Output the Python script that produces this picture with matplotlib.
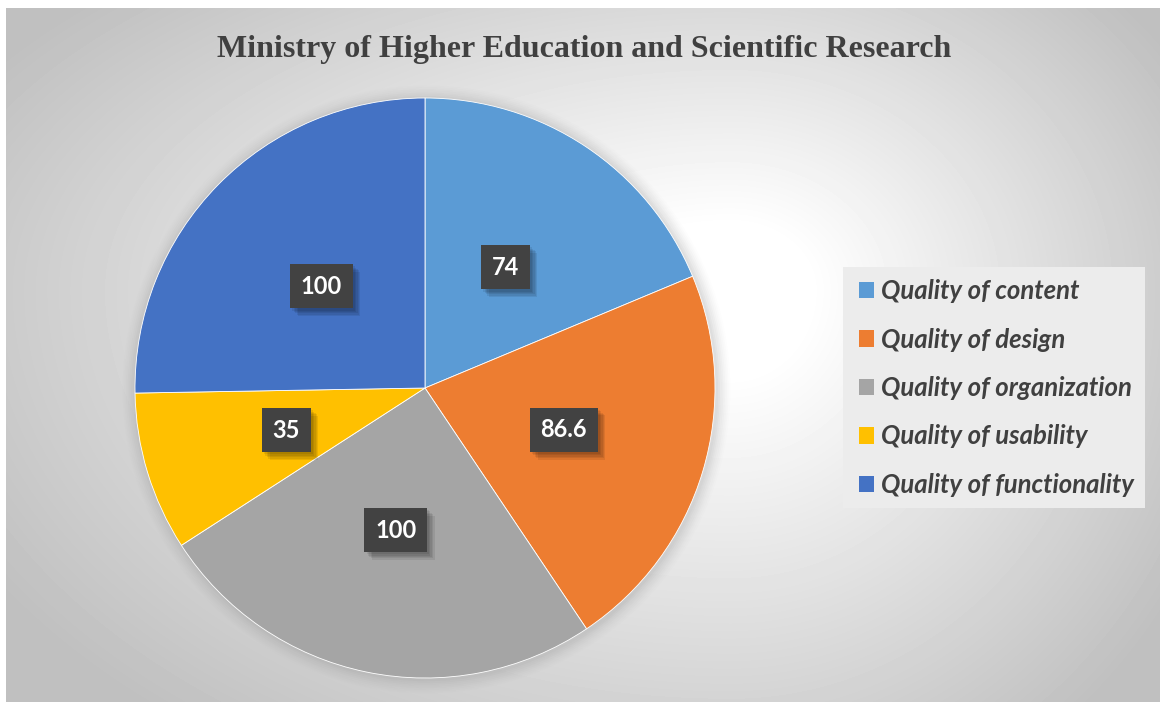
import matplotlib.pyplot as plt
import matplotlib.patheffects as pe
from matplotlib.patches import Circle, Rectangle
import numpy as np

categories = ["Quality of content", "Quality of design", "Quality of organization",
              "Quality of usability", "Quality of functionality"]
values = [74, 86.6, 100, 35, 100]
value_labels = ["74", "86.6", "100", "35", "100"]
colors = ["#5B9BD5", "#ED7D31", "#A5A5A5", "#FFC000", "#4472C4"]
title = "Ministry of Higher Education and Scientific Research"

W, H = 1160, 702
fig = plt.figure(figsize=(W / 100, H / 100), dpi=100)
fig.patch.set_facecolor("white")

# background panel with a soft radial gradient
bg = fig.add_axes([6 / W, 0, (W - 6) / W, (H - 8) / H])
bg.set_axis_off()
yy, xx = np.mgrid[8:H, 6:W].astype(float)
cx, cy = 730.0, 290.0
dx = xx - cx
dy = yy - cy
rx = np.where(dx < 0, 720.0, 440.0)
ry = np.where(dy < 0, 360.0, 470.0)
d = np.sqrt((dx / rx) ** 2 + (dy / ry) ** 2)
v = 1 - 0.2 * np.clip((d - 0.18) / 0.82, 0, 1.25)
bg.imshow(v, cmap="gray", vmin=0, vmax=1, aspect="auto", interpolation="bilinear")

# pie
cxp, cyp, r = 425, 388, 290
ax = fig.add_axes([(cxp - r) / W, (H - cyp - r) / H, 2 * r / W, 2 * r / H])
ax.set_axis_off()
ax.patch.set_alpha(0)

# faint halo around the pie
for k, a in enumerate([0.05, 0.05, 0.04, 0.035, 0.03, 0.025, 0.02, 0.015]):
    ax.add_patch(Circle((0.005, -0.005), 1 + 0.006 * (k + 1), color="#888888",
                        alpha=a, lw=0, zorder=0, clip_on=False))

wedges, texts = ax.pie(values, labels=value_labels, colors=colors, startangle=90,
                       counterclock=False, radius=1, labeldistance=0.5,
                       wedgeprops=dict(edgecolor="white", linewidth=0.6))
ax.set_xlim(-1, 1)
ax.set_ylim(-1, 1)
ax.set_aspect("equal")

# soft drop shadow under the value boxes
shadow = [pe.SimplePatchShadow(offset=(o, -o), shadow_rgbFace="black", alpha=0.08)
          for o in (1.5, 2.5, 3.5, 4.5, 5.5)]
for t in texts:
    t.set_ha("center")
    t.set_va("center")
    t.set_color("white")
    t.set_fontsize(17)
    t.set_fontweight("bold")
    t.set_family("Lato")
    t.set_bbox(dict(boxstyle="square,pad=0.45", facecolor="#424242",
                    edgecolor="none", linewidth=0))
    t.get_bbox_patch().set_path_effects(shadow + [pe.Normal()])

fig.text(584 / W, 1 - 49 / H, title, ha="center", va="center",
         fontsize=23, fontweight="bold", family="Liberation Serif", color="#404040")

# legend panel
fig.patches.append(Rectangle((843 / W, 1 - 508 / H), (1145 - 843) / W, (508 - 267) / H,
                             transform=fig.transFigure, facecolor="#ececec",
                             edgecolor="none", zorder=1))
leg = fig.legend(wedges, categories, loc="center left",
                 bbox_to_anchor=(846 / W, 1 - 388 / H), frameon=False,
                 prop=dict(family="Lato", style="italic", weight="bold", size=18.5),
                 labelcolor="#404040", handlelength=0.6, handleheight=0.6,
                 handletextpad=0.25, labelspacing=0.95, borderpad=0)
for h in leg.legend_handles:
    h.set_edgecolor("none")

fig.savefig("out.png", dpi=100)
